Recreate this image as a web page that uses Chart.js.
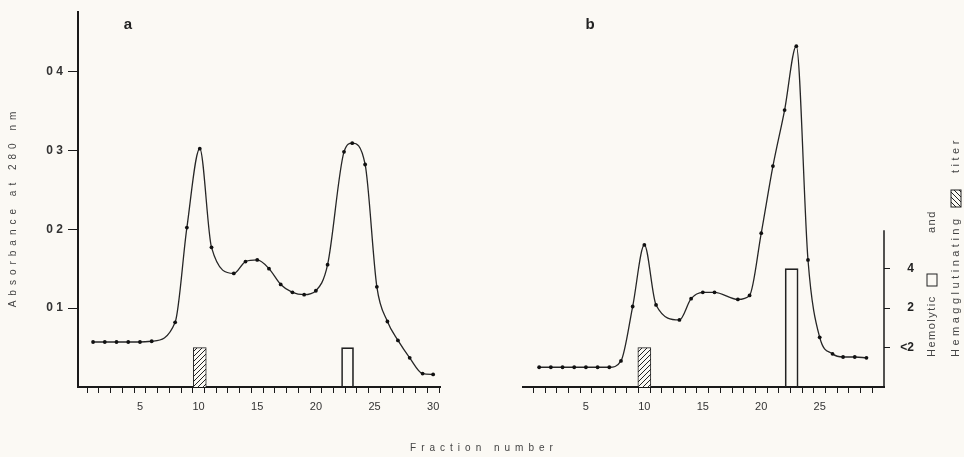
<!DOCTYPE html>
<html>
<head>
<meta charset="utf-8">
<script src="https://cdn.jsdelivr.net/npm/chart.js@4.4.0/dist/chart.umd.min.js"></script>
<style>
  html, body { margin: 0; padding: 0; background: #fbf9f4; }
  #wrap { position: relative; width: 964px; height: 457px; }
  #wrap canvas { position: absolute; left: 0; top: 0; }
</style>
</head>
<body>
<div id="wrap">
  <canvas id="chartA" width="964" height="457"></canvas>
  <canvas id="chartB" width="964" height="457"></canvas>
</div>
<script>
// Panel a - absorbance at 280 nm per fraction
const fractionsA = [1, 2, 3, 4, 5, 6, 8, 9, 10.1, 11.1, 13, 14, 15, 16, 17, 18, 19, 20, 21, 22.4, 23.1, 24.2, 25.2, 26.1, 27, 28, 29.1, 30];
const absorbanceA = [0.057, 0.057, 0.057, 0.057, 0.057, 0.058, 0.082, 0.202, 0.302, 0.177, 0.144, 0.159, 0.161, 0.150, 0.130, 0.120, 0.117, 0.122, 0.155, 0.298, 0.309, 0.282, 0.127, 0.083, 0.059, 0.037, 0.017, 0.016];

// Panel b
const fractionsB = [1, 2, 3, 4, 5, 6, 7, 8, 9, 10, 11, 13, 14, 15, 16, 18, 19, 20, 21, 22, 23, 24, 25, 26.1, 27, 28, 29];
const absorbanceB = [0.025, 0.025, 0.025, 0.025, 0.025, 0.025, 0.025, 0.033, 0.102, 0.180, 0.104, 0.085, 0.112, 0.120, 0.120, 0.111, 0.116, 0.195, 0.280, 0.351, 0.432, 0.161, 0.063, 0.042, 0.038, 0.038, 0.037];

// titer bars: fraction where the titer was read, level index into titerLabels (1-based)
const hemagglutFracA = [10.1];
const hemagglutLevelA = [1];
const hemolyticFracA = [22.7];
const hemolyticLevelA = [1];
const hemagglutFracB = [10];
const hemagglutLevelB = [1];
const hemolyticFracB = [22.6];
const hemolyticLevelB = [3];

const absTickLabels = ['0 1', '0 2', '0 3', '0 4'];
const titerLabels = ['<2', '2', '4'];

const FONT = "'Liberation Sans', Arial, sans-serif";
const INK = '#1a1a1a';
const PAPER = '#fbf9f4';

// hatch pattern for the hemagglutinating bars
function makeHatch() {
    const c = document.createElement('canvas');
    c.width = 5;
    c.height = 5;
    const g = c.getContext('2d');
    g.fillStyle = PAPER;
    g.fillRect(0, 0, 5, 5);
    g.strokeStyle = '#222';
    g.lineWidth = 1;
    g.beginPath();
    g.moveTo(-1, 6); g.lineTo(6, -1);
    g.moveTo(-1, 1); g.lineTo(1, -1);
    g.moveTo(4, 6); g.lineTo(6, 4);
    g.stroke();
    return g.createPattern(c, 'repeat');
}
const hatch = makeHatch();

const toPoints = (xs, ys) => xs.map((x, i) => ({ x: x, y: ys[i] }));

function lineDataset(xs, ys) {
    return {
        type: 'line',
        data: toPoints(xs, ys),
        yAxisID: 'y',
        borderColor: '#262626',
        borderWidth: 1.3,
        pointRadius: 1.9,
        pointBackgroundColor: '#111',
        pointBorderWidth: 0,
        cubicInterpolationMode: 'monotone',
        fill: false
    };
}

function barDataset(xs, ys, fill, thickness) {
    return {
        type: 'bar',
        data: toPoints(xs, ys),
        yAxisID: 'y1',
        stack: 'titer',
        backgroundColor: fill,
        borderColor: '#222',
        borderWidth: 1,
        barThickness: thickness
    };
}

function xScale(min, max) {
    return {
        type: 'linear',
        min: min,
        max: max,
        afterFit: (scale) => { scale.height = 70; },
        border: { display: true, color: INK, width: 2 },
        grid: { drawOnChartArea: false, drawTicks: true, tickLength: 6, color: INK, tickColor: INK },
        ticks: {
            stepSize: 1,
            includeBounds: false,
            autoSkip: false,
            maxRotation: 0,
            padding: 7,
            color: '#333',
            font: { family: FONT, size: 11 },
            callback: (v) => (v % 5 === 0 ? String(v) : '')
        }
    };
}

// shared texts: axis titles, panel letters and the titer legend
const textPlugin = {
    id: 'figureText',
    afterDraw(chart) {
        const ctx = chart.ctx;
        ctx.save();
        ctx.fillStyle = '#222';
        ctx.textBaseline = 'middle';
        ctx.textAlign = 'center';
        ctx.font = 'bold 15px ' + FONT;
        ctx.fillText('a', 128, 25);
        ctx.fillText('b', 590, 25);

        ctx.fillStyle = '#444';
        ctx.font = '10px ' + FONT;
        ctx.letterSpacing = '5px';
        ctx.fillText('Fraction number', 484, 448);

        ctx.save();
        ctx.translate(13, 209);
        ctx.rotate(-Math.PI / 2);
        ctx.fillText('Absorbance at 280 nm', 2, 0);
        ctx.restore();

        // right hand titer legend, two rotated lines read bottom to top
        ctx.font = '11px ' + FONT;
        ctx.textAlign = 'left';
        const drawLine = (x, spacing, before, boxAt, boxLen, afterAt, after, iconFill) => {
            ctx.save();
            ctx.translate(x, 357);
            ctx.rotate(-Math.PI / 2);
            ctx.letterSpacing = spacing;
            ctx.fillText(before, 0, 0);
            ctx.fillStyle = iconFill;
            ctx.fillRect(boxAt, -5, boxLen, 10);
            ctx.strokeStyle = '#222';
            ctx.lineWidth = 1;
            ctx.strokeRect(boxAt, -5, boxLen, 10);
            ctx.fillStyle = '#444';
            ctx.fillText(after, afterAt, 0);
            ctx.restore();
        };
        drawLine(932, '1.5px', 'Hemolytic', 71, 12, 124, 'and', PAPER);
        drawLine(956, '3.5px', 'Hemagglutinating', 150, 17, 184, 'titer', hatch);
        ctx.restore();
    }
};

// right titer axis line only runs up to just above the "4" level
const titerAxisPlugin = {
    id: 'titerAxis',
    afterDraw(chart) {
        const s = chart.scales.y1;
        const ctx = chart.ctx;
        ctx.save();
        ctx.strokeStyle = INK;
        ctx.lineWidth = 1.5;
        ctx.beginPath();
        ctx.moveTo(s.left, s.getPixelForValue(0));
        ctx.lineTo(s.left, s.getPixelForValue(3.97));
        ctx.stroke();
        ctx.restore();
    }
};

// panel a
new Chart(document.getElementById('chartA'), {
    type: 'line',
    data: {
        datasets: [
            barDataset(hemagglutFracA, hemagglutLevelA, hatch, 13),
            barDataset(hemolyticFracA, hemolyticLevelA, 'rgba(0,0,0,0)', 12),
            lineDataset(fractionsA, absorbanceA)
        ]
    },
    options: {
        responsive: false,
        animation: false,
        layout: { padding: { left: 0, top: 7, right: 524, bottom: 0 } },
        plugins: { legend: { display: false }, tooltip: { enabled: false } },
        scales: {
            x: xScale(0.23, 30.07),
            y: {
                position: 'left',
                min: 0,
                max: 0.475,
                afterFit: (scale) => { scale.width = 78; },
                border: { display: true, color: INK, width: 2 },
                grid: {
                    drawOnChartArea: false,
                    tickLength: 10,
                    tickWidth: 1,
                    tickColor: (c) => (c.tick && c.tick.value === 0 ? 'rgba(0,0,0,0)' : INK)
                },
                ticks: {
                    stepSize: 0.1,
                    padding: 5,
                    color: '#333',
                    font: { family: FONT, size: 12, weight: 'bold' },
                    callback: (v) => {
                        const i = Math.round(v * 10);
                        return i > 0 ? absTickLabels[i - 1] : '';
                    }
                }
            },
            y1: { display: false, min: 0, max: 9.5 }
        }
    },
    plugins: [textPlugin]
});

// panel b
new Chart(document.getElementById('chartB'), {
    type: 'line',
    data: {
        datasets: [
            barDataset(hemagglutFracB, hemagglutLevelB, hatch, 13),
            barDataset(hemolyticFracB, hemolyticLevelB, 'rgba(0,0,0,0)', 13),
            lineDataset(fractionsB, absorbanceB)
        ]
    },
    options: {
        responsive: false,
        animation: false,
        layout: { padding: { left: 523, top: 7, right: 50, bottom: 0 } },
        plugins: { legend: { display: false }, tooltip: { enabled: false } },
        scales: {
            x: xScale(0.15, 29.97),
            y: { display: false, min: 0, max: 0.475 },
            y1: {
                position: 'right',
                min: 0,
                max: 9.5,
                afterFit: (scale) => { scale.width = 30; },
                afterBuildTicks: (scale) => {
                    scale.ticks = titerLabels.map((t, i) => ({ value: i + 1 }));
                },
                border: { display: false },
                grid: { drawOnChartArea: false, tickLength: 6, tickColor: INK, tickWidth: 1 },
                ticks: {
                    padding: 5,
                    crossAlign: 'far',
                    color: '#222',
                    font: { family: FONT, size: 12, weight: 'bold' },
                    callback: (v) => titerLabels[v - 1]
                }
            }
        }
    },
    plugins: [titerAxisPlugin]
});
</script>
</body>
</html>
